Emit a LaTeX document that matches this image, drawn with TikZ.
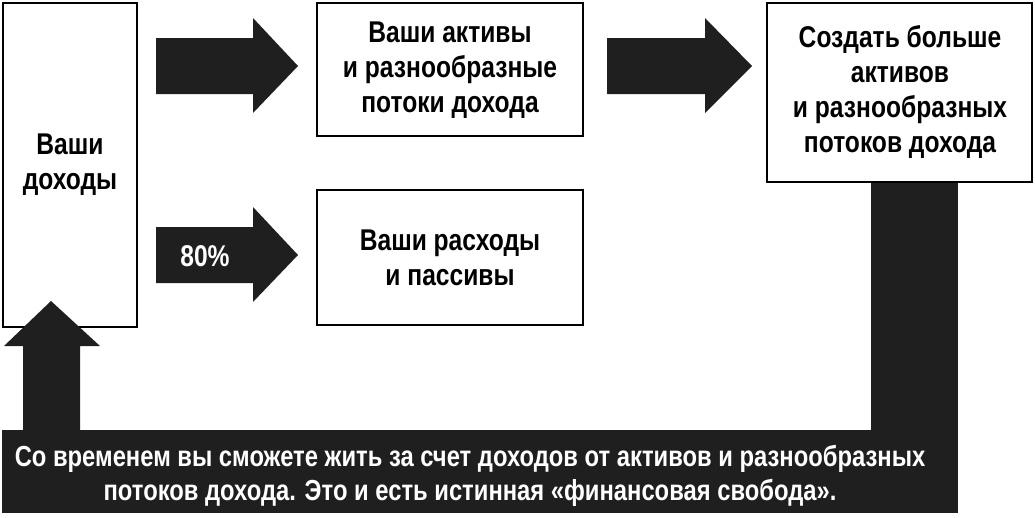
\documentclass[tikz,border=0pt]{standalone}
\usepackage{fontspec}
\setmainfont{Liberation Sans}[FakeStretch=0.82]
\begin{document}
\begin{tikzpicture}[x=1pt,y=-1pt,
  box/.style={draw,line width=1.6pt,fill=white},
  blk/.style={fill=black!88},
  lbl/.style={font=\bfseries\fontsize{30}{35}\selectfont,align=center,inner sep=0}]
\useasboundingbox (0,0) rectangle (1035,517);
% boxes
\draw[box] (3,3) rectangle (137,327);
\node[lbl] (inc) at (70,165) {Ваши\\доходы};
\draw[box] (317,3) rectangle (583,136);
\node[lbl] (ast) at (450,70) {Ваши активы\\и разнообразные\\потоки дохода};
\draw[box] (317,190) rectangle (583,325);
\node[lbl] (exp) at (450,258) {Ваши расходы\\и пассивы};
% column + bar
\fill[blk] (871,182) rectangle (958,432);
\fill[blk] (2,430) rectangle (958,513);
\draw[box] (767,3) rectangle (1032,182);
\node[lbl] (more) at (900,92) {Создать больше\\активов\\и разнообразных\\потоков дохода};
% right arrows
\fill[blk] (156,38) -- (253,38) -- (253,18) -- (298,66) -- (253,113) -- (253,94) -- (156,94) -- cycle;
\fill[blk] (607,38) -- (705,38) -- (705,18) -- (752,66) -- (705,113) -- (705,94) -- (607,94) -- cycle;
\fill[blk] (156,227) -- (253,227) -- (253,207) -- (298,255) -- (253,302) -- (253,283) -- (156,283) -- cycle;
\node[lbl,text=white] (pct) at (205,256) {80\%};
% up arrow
\fill[blk] (23,431) -- (23,346) -- (4,346) -- (51,301) -- (100,346) -- (80,346) -- (80,431) -- cycle;
\node[font=\bfseries\fontsize{29}{34}\selectfont,align=center,text=white,inner sep=0] (msg) at (470,476)
 {Со временем вы сможете жить за счет доходов от активов и разнообразных\\потоков дохода. Это и есть истинная «финансовая свобода».};
\end{tikzpicture}
\end{document}
